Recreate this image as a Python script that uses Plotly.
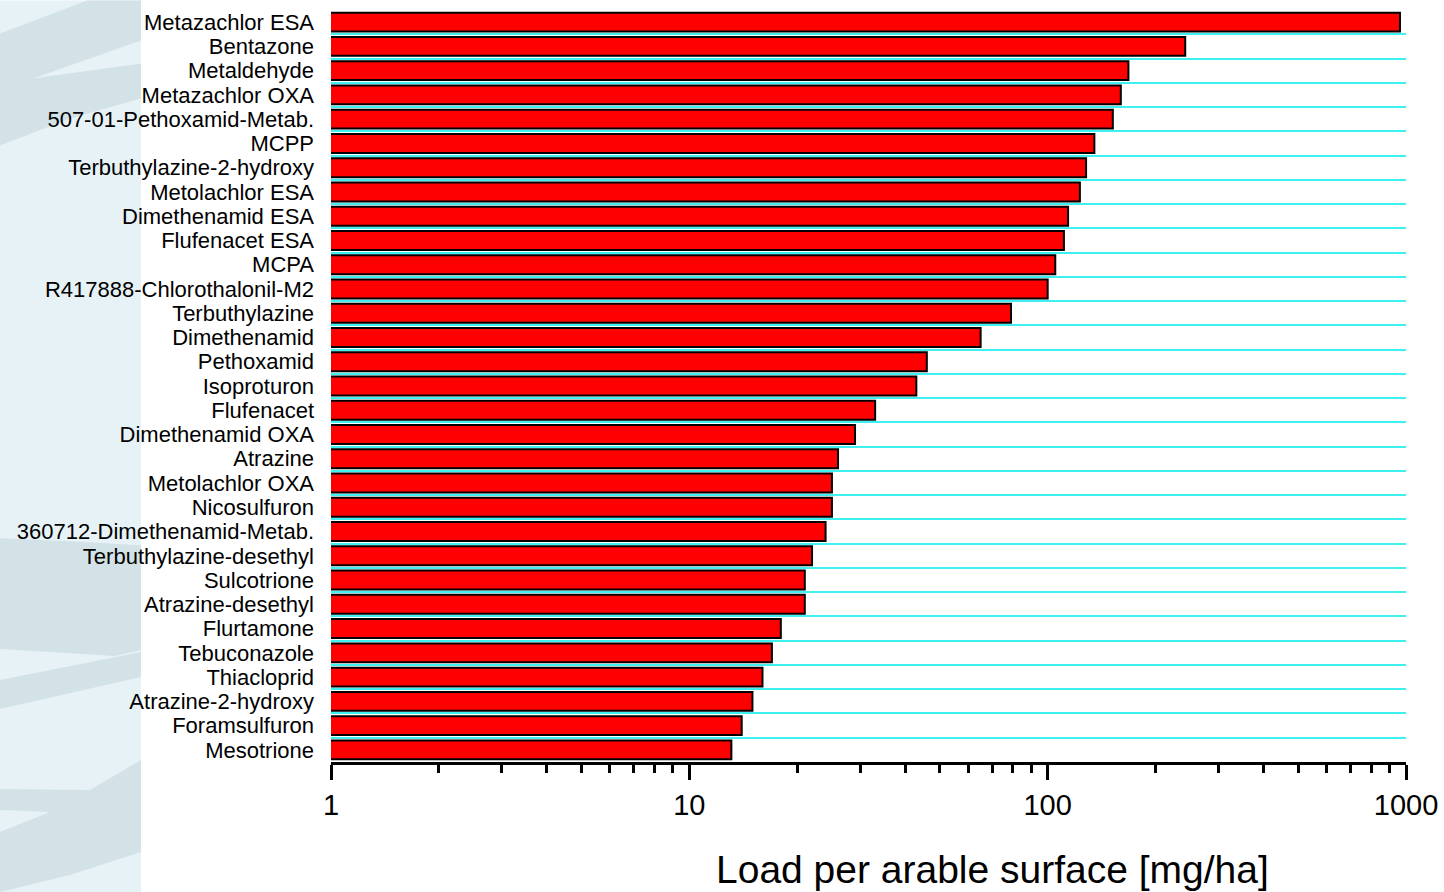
import plotly.graph_objects as go

# Substances ordered from highest to lowest load
substances = [
    "Metazachlor ESA", "Bentazone", "Metaldehyde", "Metazachlor OXA",
    "507-01-Pethoxamid-Metab.", "MCPP", "Terbuthylazine-2-hydroxy",
    "Metolachlor ESA", "Dimethenamid ESA", "Flufenacet ESA", "MCPA",
    "R417888-Chlorothalonil-M2", "Terbuthylazine", "Dimethenamid",
    "Pethoxamid", "Isoproturon", "Flufenacet", "Dimethenamid OXA",
    "Atrazine", "Metolachlor OXA", "Nicosulfuron",
    "360712-Dimethenamid-Metab.", "Terbuthylazine-desethyl", "Sulcotrione",
    "Atrazine-desethyl", "Flurtamone", "Tebuconazole", "Thiacloprid",
    "Atrazine-2-hydroxy", "Foramsulfuron", "Mesotrione",
]

# Load per arable surface in mg/ha
load_mg_ha = [
    962, 242, 168, 160,
    152, 135, 128,
    123, 114, 111, 105,
    100, 79, 65,
    46, 43, 33, 29,
    26, 25, 25,
    24, 22, 21,
    21, 18, 17, 16,
    15, 14, 13.1,
]

x_tick_vals = [1, 10, 100, 1000]
x_tick_text = ["1", "10", "100", "1000"]
x_minor_vals = [m * d for d in (1, 10, 100) for m in range(2, 10)]

FONT = "Liberation Sans, Arial, sans-serif"
W, H = 1444, 892
L, R, T, B = 331, 38, 9.5, 130

fig = go.Figure(
    go.Bar(
        x=load_mg_ha,
        y=substances,
        orientation="h",
        marker=dict(color="#ff0000", line=dict(color="#000000", width=2)),
        hoverinfo="x+y",
    )
)

# Decorative pale-blue strip down the left edge (pixel outlines -> paper coords)
def px_path(points):
    pts = [((x - L) / (W - L - R), (H - B - y) / (H - T - B)) for x, y in points]
    return "M " + " L ".join(f"{a:.5f},{b:.5f}" for a, b in pts) + " Z"

LIGHT = "#e7f2f7"
DARK = "#d3e2e6"
strip = [
    ([(0, 0), (141, 0), (141, 892), (0, 892)], LIGHT),
    ([(87, 0), (141, 0), (141, 40), (33, 78), (141, 63), (141, 98), (70, 118), (0, 145), (0, 33)], DARK),
    ([(0, 538), (70, 541), (141, 545), (141, 650), (115, 656), (0, 649)], DARK),
    ([(0, 680), (141, 652), (141, 677), (0, 709)], DARK),
    ([(0, 789), (90, 790), (141, 760), (141, 852), (70, 875), (0, 892)], DARK),
    ([(0, 810), (50, 812), (0, 832)], LIGHT),
]
shapes = [
    dict(type="path", path=px_path(p), xref="paper", yref="paper",
         fillcolor=c, line=dict(width=0), layer="below")
    for p, c in strip
]

fig.update_layout(
    width=W,
    height=H,
    margin=dict(l=L, r=R, t=T, b=B, pad=0, autoexpand=False),
    paper_bgcolor="white",
    plot_bgcolor="white",
    showlegend=False,
    bargap=0.22,
    shapes=shapes,
    font=dict(family=FONT, color="black"),
    xaxis=dict(
        type="log",
        range=[0, 3],
        automargin=False,
        tickvals=x_tick_vals,
        ticktext=x_tick_text,
        ticks="outside",
        ticklen=15,
        tickwidth=2.5,
        tickcolor="black",
        tickfont=dict(size=29, family=FONT, color="black"),
        showline=True,
        linecolor="black",
        linewidth=3,
        showgrid=False,
        zeroline=False,
        minor=dict(
            tickmode="array",
            tickvals=x_minor_vals,
            ticks="outside",
            ticklen=8,
            tickwidth=2.5,
            tickcolor="black",
            showgrid=False,
        ),
    ),
    yaxis=dict(
        type="category",
        autorange="reversed",
        automargin=False,
        tickmode="array",
        tickvals=substances,
        ticktext=substances,
        tickson="boundaries",
        ticks="",
        showgrid=True,
        gridcolor="#3ff0f0",
        gridwidth=1.5,
        showline=False,
        zeroline=False,
        tickfont=dict(size=22, family=FONT, color="black"),
        ticklabelstandoff=16,
    ),
    annotations=[
        dict(
            text="Load per arable surface [mg/ha]",
            xref="paper", yref="paper",
            x=(992 - L) / (W - L - R), y=(H - B - 870) / (H - T - B),
            xanchor="center", yanchor="middle",
            showarrow=False,
            font=dict(size=39, family=FONT, color="black"),
        )
    ],
)

fig.write_html("out.html")
